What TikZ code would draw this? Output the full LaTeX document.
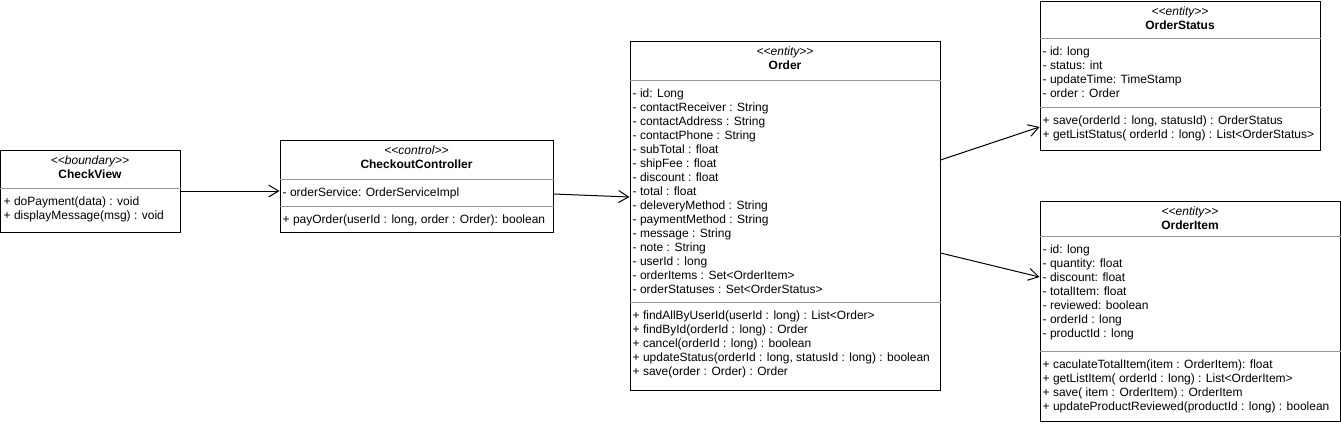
\documentclass[tikz,border=0pt]{standalone}
\usepackage{fontspec}
\setmainfont{Liberation Sans}
\usetikzlibrary{arrows.meta}
\definecolor{sepgray}{RGB}{150,150,150}

\begin{document}
\begin{tikzpicture}
  [x=1pt, y=-1pt,
   classbox/.style={draw, line width=1pt, inner sep=0pt},
   sepline/.style={draw=sepgray, line width=1pt},
   stereo/.style={anchor=base, inner sep=0pt, font=\fontsize{12}{14}\selectfont\itshape},
   cname/.style={anchor=base, inner sep=0pt, font=\fontsize{12}{14}\selectfont\bfseries},
   member/.style={anchor=base west, inner sep=0pt, font=\fontsize{12}{14}\selectfont},
   assoc/.style={-{Straight Barb[length=10pt,width=12pt]}, line width=1pt}]
  \useasboundingbox (0,0) rectangle (1341,423);

  % class boxes
  \node[classbox, minimum width=179.5pt, minimum height=82pt] (checkview) at (90.25,191) {};
  \node[classbox, minimum width=273pt, minimum height=92pt] (controller) at (416.5,186) {};
  \node[classbox, minimum width=310pt, minimum height=349pt] (order) at (785,215.5) {};
  \node[classbox, minimum width=280pt, minimum height=149pt] (orderstatus) at (1180,75.5) {};
  \node[classbox, minimum width=300pt, minimum height=220pt] (orderitem) at (1190,311) {};

  % compartment separators
  \draw[sepline] (checkview.west |- 0,188) -- (checkview.east |- 0,188);
  \draw[sepline] (controller.west |- 0,179) -- (controller.east |- 0,179);
  \draw[sepline] (controller.west |- 0,206) -- (controller.east |- 0,206);
  \draw[sepline] (order.west |- 0,80) -- (order.east |- 0,80);
  \draw[sepline] (order.west |- 0,302) -- (order.east |- 0,302);
  \draw[sepline] (orderstatus.west |- 0,38) -- (orderstatus.east |- 0,38);
  \draw[sepline] (orderstatus.west |- 0,107) -- (orderstatus.east |- 0,107);
  \draw[sepline] (orderitem.west |- 0,236) -- (orderitem.east |- 0,236);
  \draw[sepline] (orderitem.west |- 0,351) -- (orderitem.east |- 0,351);

  % headers
  \node[stereo] (checkviewst) at (90,164) {<{}<boundary>{}>};
  \node[cname] (checkviewnm) at (90,178) {CheckView};
  \node[stereo] (controllerst) at (416.5,154) {<{}<control>{}>};
  \node[cname] (controllernm) at (416.5,168) {CheckoutController};
  \node[stereo] (orderst) at (785,55) {<{}<entity>{}>};
  \node[cname] (ordernm) at (785,69) {Order};
  \node[stereo] (orderstatusst) at (1180,15) {<{}<entity>{}>};
  \node[cname] (orderstatusnm) at (1180,29) {OrderStatus};
  \node[stereo] (orderitemst) at (1190,215) {<{}<entity>{}>};
  \node[cname] (orderitemnm) at (1190,229) {OrderItem};

  % members
  \foreach \txt [count=\i] in {{+ doPayment(data) : void}, {+ displayMessage(msg) : void}}
    \node[member] (checkviewop\i) at (3.5,{191+14*\i}) {\txt};
  \node[member] (controllerattr) at (282.5,196) {- orderService: OrderServiceImpl};
  \node[member] (controllerop) at (282.5,223) {+ payOrder(userId : long, order : Order): boolean};
  \foreach \txt [count=\i] in {{- id: Long}, {- contactReceiver : String},
      {- contactAddress : String}, {- contactPhone : String}, {- subTotal : float},
      {- shipFee : float}, {- discount : float}, {- total : float},
      {- deleveryMethod : String}, {- paymentMethod : String}, {- message : String},
      {- note : String}, {- userId : long}, {- orderItems : Set<OrderItem>},
      {- orderStatuses : Set<OrderStatus>}}
    \node[member] (orderattr\i) at (632.5,{83+14*\i}) {\txt};
  \foreach \txt [count=\i] in {{+ findAllByUserId(userId : long) : List<Order>},
      {+ findById(orderId : long) : Order}, {+ cancel(orderId : long) : boolean},
      {+ updateStatus(orderId : long, statusId : long) : boolean},
      {+ save(order : Order) : Order}}
    \node[member] (orderop\i) at (632.5,{305+14*\i}) {\txt};
  \foreach \txt [count=\i] in {{- id: long}, {- status: int},
      {- updateTime: TimeStamp}, {- order : Order}}
    \node[member] (orderstatusattr\i) at (1042.5,{41+14*\i}) {\txt};
  \foreach \txt [count=\i] in {{+ save(orderId : long, statusId) : OrderStatus},
      {+ getListStatus( orderId : long) : List<OrderStatus>}}
    \node[member] (orderstatusop\i) at (1042.5,{110+14*\i}) {\txt};
  \foreach \txt [count=\i] in {{- id: long}, {- quantity: float}, {- discount: float},
      {- totalItem: float}, {- reviewed: boolean}, {- orderId : long},
      {- productId : long}}
    \node[member] (orderitemattr\i) at (1042.5,{239+14*\i}) {\txt};
  \foreach \txt [count=\i] in {{+ caculateTotalItem(item : OrderItem): float},
      {+ getListItem( orderId : long) : List<OrderItem>},
      {+ save( item : OrderItem) : OrderItem},
      {+ updateProductReviewed(productId : long) : boolean}}
    \node[member] (orderitemop\i) at (1042.5,{354+14*\i}) {\txt};

  % associations
  \draw[assoc] (checkview.east) -- (checkview.east -| controller.west);
  \draw[assoc] ([yshift=-8pt]controller.east) -- ([yshift=18.5pt]order.west);
  \draw[assoc] ([yshift=55.5pt]order.east) -- ([yshift=-51.5pt]orderstatus.west);
  \draw[assoc] ([yshift=-37.5pt]order.east) -- ([yshift=34pt]orderitem.west);
\end{tikzpicture}
\end{document}
